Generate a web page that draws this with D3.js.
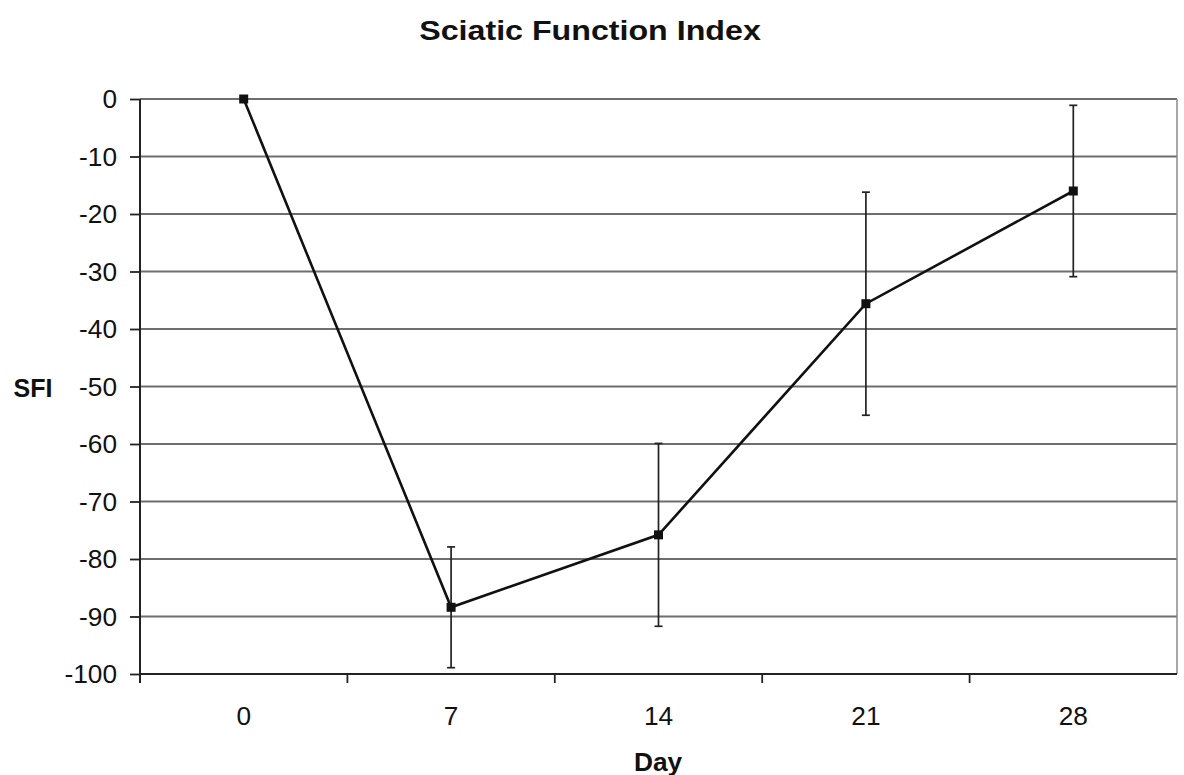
<!DOCTYPE html>
<html>
<head>
<meta charset="utf-8">
<script src="https://cdn.jsdelivr.net/npm/d3@7"></script>
<style>
  body { margin: 0; background: #fff; }
  text { font-family: Arial, "Liberation Sans", sans-serif; fill: #111; }
</style>
</head>
<body>
<div id="chart"></div>
<script>
const days = ["0", "7", "14", "21", "28"];
const sfiMean = [0, -88.4, -75.8, -35.6, -16.0];
const sfiErr = [0, 10.5, 15.9, 19.4, 14.9];
const yTicks = [0, -10, -20, -30, -40, -50, -60, -70, -80, -90, -100];

const width = 1184, height = 775;
const margin = { top: 99, right: 7, bottom: 101, left: 140 };

const svg = d3.select("#chart").append("svg")
    .attr("width", width)
    .attr("height", height);

const x = d3.scaleBand()
    .domain(days)
    .range([margin.left, width - margin.right]);

const y = d3.scaleLinear()
    .domain([-100, 0])
    .range([height - margin.bottom, margin.top]);

// text helper, sx stretches it sideways like the scan
function label(g, px, py, str, anchor, size, weight, sx) {
    g.append("text")
        .attr("transform", `translate(${px},${py}) scale(${sx || 1.05},1)`)
        .attr("text-anchor", anchor)
        .attr("font-size", size)
        .attr("font-weight", weight || "normal")
        .text(str);
}

// gridlines
svg.append("g")
    .attr("stroke", "#6e6e6e")
    .attr("stroke-width", 1.8)
    .selectAll("line")
    .data(yTicks.filter(d => d !== -100))
    .join("line")
    .attr("x1", margin.left)
    .attr("x2", width - margin.right)
    .attr("y1", d => y(d))
    .attr("y2", d => y(d));

// right border
svg.append("line")
    .attr("x1", width - margin.right).attr("x2", width - margin.right)
    .attr("y1", margin.top).attr("y2", y(-100))
    .attr("stroke", "#8a8a8a")
    .attr("stroke-width", 1.5);

// y axis
const yAxis = svg.append("g")
    .attr("transform", `translate(${margin.left},0)`)
    .call(d3.axisLeft(y).tickValues(yTicks).tickSize(10).tickFormat(""));
yAxis.select(".domain").attr("stroke", "#222").attr("stroke-width", 2)
    .attr("d", `M0,${y(0)}V${y(-100) + 9}`);
yAxis.selectAll(".tick line").attr("stroke", "#222").attr("stroke-width", 1.8);

const yLabels = svg.append("g");
yTicks.forEach(t => label(yLabels, 117, y(t) + 9, t, "end", 25));

// x axis
const xBounds = days.map(d => x(d)).concat([width - margin.right]);
const xAxis = svg.append("g")
    .attr("transform", `translate(0,${y(-100)})`);
xAxis.append("line")
    .attr("x1", margin.left).attr("x2", width - margin.right)
    .attr("stroke", "#222").attr("stroke-width", 2);
xAxis.selectAll(".xt")
    .data(xBounds.slice(1, -1))
    .join("line")
    .attr("class", "xt")
    .attr("x1", d => d).attr("x2", d => d)
    .attr("y1", 0).attr("y2", 9)
    .attr("stroke", "#222").attr("stroke-width", 1.8);

const xLabels = svg.append("g");
days.forEach(d => label(xLabels, x(d) + x.bandwidth() / 2, 725, d, "middle", 25));

// error bars
const cx = d => x(d) + x.bandwidth() / 2;
const pts = days.map((d, i) => ({ day: d, v: sfiMean[i], e: sfiErr[i] }));
const eb = svg.append("g")
    .attr("stroke", "#222")
    .attr("stroke-width", 1.7);
pts.filter(p => p.e > 0).forEach(p => {
    eb.append("line")
        .attr("x1", cx(p.day)).attr("x2", cx(p.day))
        .attr("y1", y(p.v + p.e)).attr("y2", y(p.v - p.e));
    [p.v + p.e, p.v - p.e].forEach(v => {
        eb.append("line")
            .attr("x1", cx(p.day) - 4).attr("x2", cx(p.day) + 4)
            .attr("y1", y(v)).attr("y2", y(v));
    });
});

// line
svg.append("path")
    .datum(pts)
    .attr("fill", "none")
    .attr("stroke", "#111")
    .attr("stroke-width", 2.6)
    .attr("d", d3.line().x(p => cx(p.day)).y(p => y(p.v)));

// markers
svg.append("g")
    .selectAll("rect")
    .data(pts)
    .join("rect")
    .attr("x", p => cx(p.day) - 4.5)
    .attr("y", p => y(p.v) - 4.5)
    .attr("width", 9)
    .attr("height", 9)
    .attr("fill", "#111");

// titles
label(svg, 590, 40, "Sciatic Function Index", "middle", 28, "bold", 1.15);
label(svg, 33, 397, "SFI", "middle", 25, "bold", 1.0);
label(svg, 658, 771, "Day", "middle", 25, "bold", 1.05);
</script>
</body>
</html>
